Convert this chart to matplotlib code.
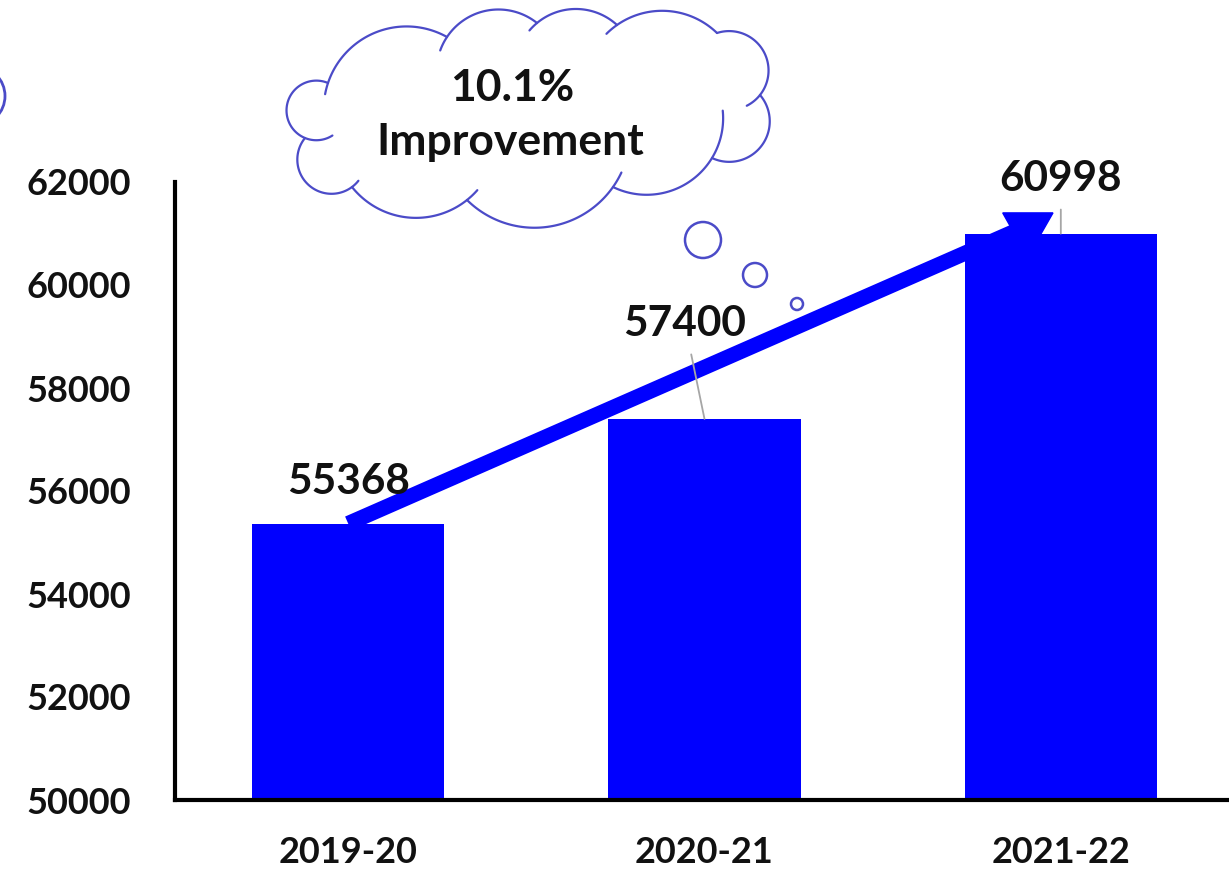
import numpy as np
import matplotlib
matplotlib.use("Agg")
from matplotlib import pyplot as plt
from matplotlib.patches import Circle, Polygon

# yearly totals
years = ["2019-20", "2020-21", "2021-22"]
values = [55368, 57400, 60998]
yticks = [50000, 52000, 54000, 56000, 58000, 60000, 62000]
callout_lines = ["10.1%", "Improvement"]

BLUE = "#0000ff"
CLOUD = "#4b4bc8"
W, H = 1229, 874

plt.rcParams["font.family"] = ["Lato", "DejaVu Sans"]
plt.rcParams["font.weight"] = "bold"


def bump(p0, p1, sag, ext0=0.0, ext1=0.0, n=80):
    # circular arc through p0 and p1 that bulges away from the chord by sag
    p0, p1 = np.array(p0, float), np.array(p1, float)
    d = p1 - p0
    c = np.hypot(*d)
    nrm = np.array([d[1], -d[0]]) / c
    R = (c * c / 4 + sag * sag) / (2 * sag)
    mid = (p0 + p1) / 2
    ctr = mid - nrm * (R - sag)
    top = mid + nrm * sag
    a0 = np.arctan2(*(p0 - ctr)[::-1])
    a1 = np.arctan2(*(p1 - ctr)[::-1])
    am = np.arctan2(*(top - ctr)[::-1])
    delta = (a1 - a0) % (2 * np.pi)
    # pick the way round that passes the outer point
    if (am - a0) % (2 * np.pi) > delta:
        delta -= 2 * np.pi
    s = np.sign(delta)
    t = np.linspace(a0 - s * np.radians(ext0), a0 + delta + s * np.radians(ext1), n)
    return ctr[0] + R * np.cos(t), ctr[1] + R * np.sin(t)


fig = plt.figure(figsize=(W / 100, H / 100), dpi=100)
ax = fig.add_axes([175 / W, 74 / H, 1 - 175 / W, (800 - 182) / H])

x = np.arange(len(years))
ax.bar(x, values, width=0.54, color=BLUE, zorder=2)

# trend arrow: shaft runs behind the bars, head drops onto the last bar
ax.plot([0, 1.89], [values[0], 61100], color=BLUE, lw=11,
        solid_capstyle="butt", zorder=1)
ax.add_patch(Polygon([(1.837, 61400), (1.978, 61400), (1.907, 60540)],
                     closed=True, color=BLUE, zorder=1))

# value labels with thin leader lines
offsets = [(0, 30), (-14, 68), (0, 39)]
leaders = [False, True, True]
for xi, v, off, lead in zip(x, values, offsets, leaders):
    props = dict(arrowstyle="-", color="#a6a6a6", lw=1.3, shrinkA=6, shrinkB=0) if lead else None
    ax.annotate(str(v), xy=(xi, v), xytext=off, textcoords="offset points",
                ha="center", va="center", fontsize=30.5, fontweight="bold",
                color="#111111", arrowprops=props, zorder=4)

ax.set_xlim(-0.486, 2.472)
ax.set_ylim(50000, 62000)
ax.set_xticks(x)
ax.set_xticklabels(years)
ax.set_yticks(yticks)
ax.tick_params(axis="both", length=0, labelsize=26, colors="#111111")
ax.tick_params(axis="y", pad=32)
ax.tick_params(axis="x", pad=26)
for lbl in ax.get_xticklabels() + ax.get_yticklabels():
    lbl.set_fontweight("bold")
for side in ["top", "right"]:
    ax.spines[side].set_visible(False)
for side in ["left", "bottom"]:
    ax.spines[side].set_linewidth(3)
    ax.spines[side].set_color("black")

# thought cloud drawn in pixel space on a full-figure overlay
ov = fig.add_axes([0, 0, 1, 1], zorder=3)
ov.set_xlim(0, W)
ov.set_ylim(H, 0)
ov.axis("off")

cusps = [(328, 83), (447, 37), (537, 23), (617, 25), (717, 33), (760, 95),
         (712, 158), (613, 187), (467, 200), (352, 187), (305, 138)]
sags = [30, 20, 15, 18, 28, 32, 20, 34, 24, 30, 30]
exts = [(8, 0), (14, 0), (10, 0), (10, 0), (0, 25), (0, 0),
        (37, 0), (10, 0), (10, 0), (15, 0), (55, 0)]
xs, ys = [], []
for i, sg in enumerate(sags):
    bx, by = bump(cusps[i], cusps[(i + 1) % len(cusps)], sg)
    xs.append(bx)
    ys.append(by)
ov.fill(np.concatenate(xs), np.concatenate(ys), color="white", zorder=1)
for i, (sg, (e0, e1)) in enumerate(zip(sags, exts)):
    bx, by = bump(cusps[i], cusps[(i + 1) % len(cusps)], sg, e0, e1)
    ov.plot(bx, by, color=CLOUD, lw=1.6, solid_capstyle="round", zorder=2)

for (cx, cy), r in zip([(703, 240), (755, 275), (797, 304)], [18, 12, 6]):
    ov.add_patch(Circle((cx, cy), r, fill=False, ec=CLOUD, lw=1.8, zorder=2))
ov.add_patch(Circle((-25, 96), 30, fill=False, ec=CLOUD, lw=2, zorder=2))

ov.text(512, 88, callout_lines[0], ha="center", va="center", fontsize=32,
        fontweight="bold", color="#111111", zorder=3)
ov.text(510, 142, callout_lines[1], ha="center", va="center", fontsize=32,
        fontweight="bold", color="#111111", zorder=3)

fig.savefig("out.png", dpi=100, facecolor="white")
